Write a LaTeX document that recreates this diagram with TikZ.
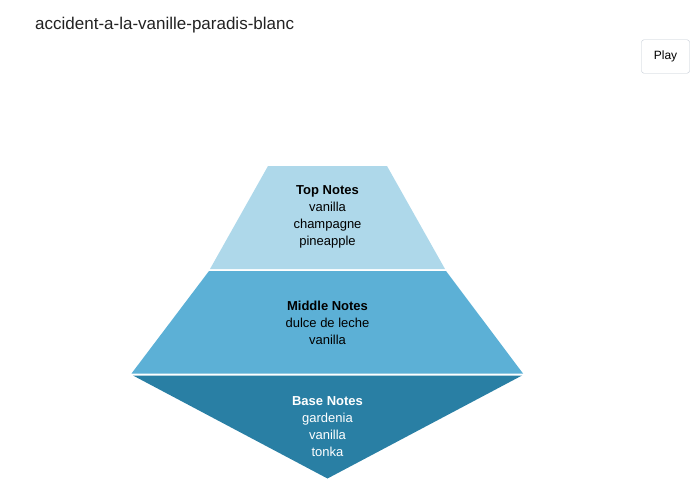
\documentclass[tikz,border=0pt]{standalone}
\usepackage{fontspec}
\setmainfont{Liberation Sans}
\usepackage{tikz}
\definecolor{toplayer}{RGB}{174,216,234}
\definecolor{midlayer}{RGB}{92,176,214}
\definecolor{baselayer}{RGB}{41,127,164}
\definecolor{btnborder}{RGB}{192,200,210}
\definecolor{titlegray}{RGB}{34,34,34}

\begin{document}
\begin{tikzpicture}[x=1pt,y=-1pt,
    notes/.style={align=center,font=\fontsize{13}{17}\selectfont,inner sep=0pt}]
    \useasboundingbox (0,0) rectangle (700,500);
    \fill[toplayer] (268,166) -- (387,166) -- (445,269) -- (210,269) -- cycle;
    \fill[midlayer] (209,271) -- (446,271) -- (523,373.5) -- (131.5,373.5) -- cycle;
    \fill[baselayer] (133,375.5) -- (522,375.5) -- (327.5,478.5) -- cycle;
    \node[anchor=west,inner sep=0pt,font=\fontsize{17}{20}\selectfont,text=titlegray] (title) at (35,25) {accident-a-la-vanille-paradis-blanc};
    \node[draw=btnborder,rounded corners=2.5pt,minimum width=48,minimum height=33.5,font=\fontsize{12}{14}\selectfont] (play) at (665.5,56.5) {Play};
    \node[notes] (topnotes) at (327.5,217) {\textbf{Top Notes}\\vanilla\\champagne\\pineapple};
    \node[notes] (midnotes) at (327.5,322.5) {\textbf{Middle Notes}\\dulce de leche\\vanilla};
    \node[notes,text=white] (basenotes) at (327.5,427) {\textbf{Base Notes}\\gardenia\\vanilla\\tonka};
\end{tikzpicture}
\end{document}
